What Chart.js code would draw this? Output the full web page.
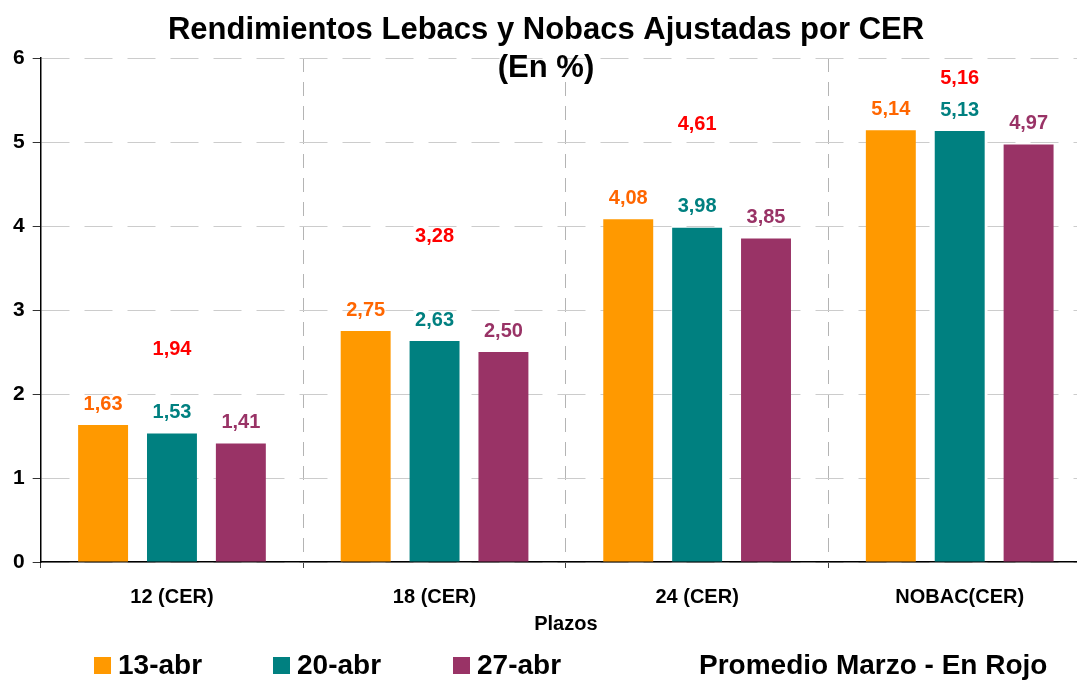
<!DOCTYPE html>
<html>
<head>
<meta charset="utf-8">
<script src="https://cdn.jsdelivr.net/npm/chart.js@4.4.0/dist/chart.umd.min.js"></script>
<style>
    html, body { margin: 0; padding: 0; background: #fff; overflow: hidden; }
    #wrap { position: relative; width: 1092px; height: 680px; }
    .item { position: absolute; top: 647px; font: bold 28px "Liberation Sans", Arial, sans-serif; color: #000; line-height: 36px; white-space: nowrap; }
    .caja { position: absolute; top: 10px; width: 17px; height: 17px; }
</style>
</head>
<body>
<div id="wrap">
    <canvas id="grafico" width="1092" height="680"></canvas>
    <div id="leyenda"></div>
</div>
<script>
const plazos = ['12 (CER)', '18 (CER)', '24 (CER)', 'NOBAC(CER)'];
const fechas = ['13-abr', '20-abr', '27-abr'];
const abr13 = [1.63, 2.75, 4.08, 5.14];
const abr20 = [1.53, 2.63, 3.98, 5.13];
const abr27 = [1.41, 2.50, 3.85, 4.97];
const promedioMarzo = [1.94, 3.28, 4.61, 5.16];
const ticksY = [0, 1, 2, 3, 4, 5, 6];

const coloresBarra = ['#FF9900', '#008080', '#993366'];
const coloresEtiqueta = ['#FF6600', '#008080', '#993366'];
const fuente = '"Liberation Sans", Arial, sans-serif';

function formato(v) {
    return v.toFixed(2).replace('.', ',');
}

// titulo dibujado encima del area del grafico
const tituloPlugin = {
    id: 'tituloPlugin',
    afterDraw(chart) {
        const ctx = chart.ctx;
        ctx.save();
        ctx.fillStyle = '#000';
        ctx.font = 'bold 31px ' + fuente;
        ctx.textAlign = 'center';
        ctx.textBaseline = 'middle';
        const cx = chart.width / 2;
        ctx.fillText('Rendimientos Lebacs y Nobacs Ajustadas por CER', cx, 30);
        ctx.fillText('(En %)', cx, 68);
        ctx.restore();
    }
};

// valores sobre las barras y promedio de marzo en rojo
const etiquetasPlugin = {
    id: 'etiquetasPlugin',
    afterDatasetsDraw(chart) {
        const ctx = chart.ctx;
        ctx.save();
        ctx.font = 'bold 20px ' + fuente;
        ctx.textAlign = 'center';
        ctx.textBaseline = 'middle';
        chart.data.datasets.forEach((ds, i) => {
            const meta = chart.getDatasetMeta(i);
            const arriba = ds.type === 'line' ? 50 : 21;
            ctx.fillStyle = ds.colorEtiqueta;
            meta.data.forEach((el, j) => {
                ctx.fillText(formato(ds.data[j]), el.x, el.y - arriba);
            });
        });
        ctx.restore();
    }
};

const seriesBarra = [abr13, abr20, abr27].map((serie, i) => ({
    type: 'bar',
    label: fechas[i],
    data: serie,
    backgroundColor: coloresBarra[i],
    colorEtiqueta: coloresEtiqueta[i],
    categoryPercentage: 0.787,
    barPercentage: 0.725,
    order: 2
}));

const seriePromedio = {
    type: 'line',
    label: 'Promedio Marzo',
    data: promedioMarzo,
    showLine: false,
    pointRadius: 0,
    colorEtiqueta: '#FF0000',
    order: 1
};

new Chart(document.getElementById('grafico'), {
    type: 'bar',
    data: {
        labels: plazos,
        datasets: [...seriesBarra, seriePromedio]
    },
    options: {
        responsive: false,
        animation: false,
        layout: { padding: { top: 58, left: 5, right: 1, bottom: 44 } },
        plugins: {
            legend: { display: false },
            title: { display: false },
            tooltip: { enabled: false }
        },
        scales: {
            x: {
                offset: true,
                grid: {
                    offset: true,
                    color: '#b4b4b4',
                    lineWidth: 1,
                    tickLength: 6,
                    tickColor: '#444'
                },
                border: { color: '#000', width: 1.5, dash: [14, 10] },
                ticks: {
                    color: '#000',
                    padding: 17,
                    font: { family: fuente, size: 20, weight: 'bold' }
                },
                title: {
                    display: true,
                    text: 'Plazos',
                    color: '#000',
                    padding: { top: -14, bottom: 0 },
                    font: { family: fuente, size: 20, weight: 'bold' }
                }
            },
            y: {
                min: 0,
                max: 6,
                afterBuildTicks(scale) {
                    scale.ticks = ticksY.map(v => ({ value: v }));
                },
                grid: {
                    color: '#cccccc',
                    lineWidth: 1,
                    tickLength: 8,
                    tickColor: '#333'
                },
                border: { color: '#000', width: 1.5, dash: [28, 15] },
                ticks: {
                    color: '#000',
                    padding: 8,
                    font: { family: fuente, size: 21, weight: 'bold' }
                }
            }
        }
    },
    plugins: [etiquetasPlugin, tituloPlugin]
});

// leyenda en html
const leyenda = document.getElementById('leyenda');
const posiciones = [94, 273, 453];
fechas.forEach((f, i) => {
    const item = document.createElement('div');
    item.className = 'item';
    item.style.left = posiciones[i] + 'px';
    item.innerHTML = '<span class="caja" style="background:' + coloresBarra[i] + '"></span>' +
        '<span style="margin-left:24px">' + f + '</span>';
    leyenda.appendChild(item);
});
const notaRojo = document.createElement('div');
notaRojo.className = 'item';
notaRojo.style.left = '699px';
notaRojo.textContent = 'Promedio Marzo - En Rojo';
leyenda.appendChild(notaRojo);
</script>
</body>
</html>
